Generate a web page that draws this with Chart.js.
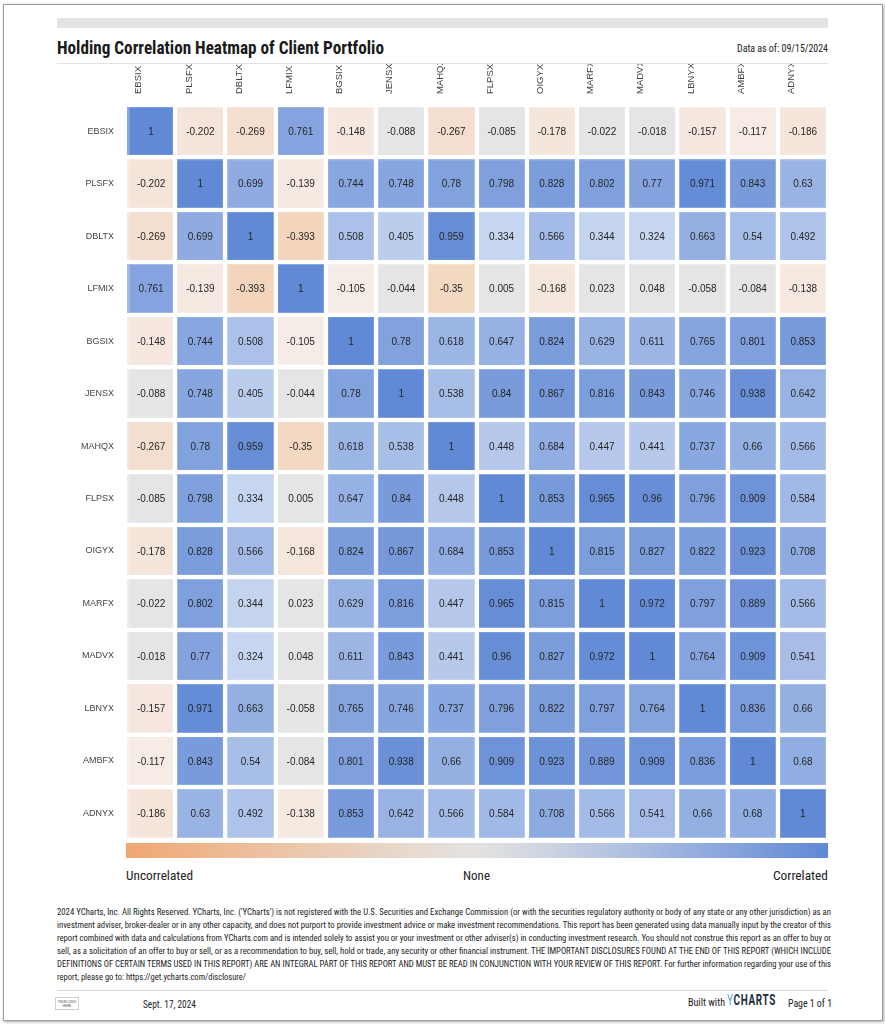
<!DOCTYPE html>
<html>
<head>
<meta charset="utf-8">
<script src="https://cdn.jsdelivr.net/npm/chart.js@4/dist/chart.umd.min.js"></script>
<style>
  body { margin: 0; background: #fff; width: 885px; height: 1024px; position: relative; overflow: hidden; font-family: Roboto, Arial, sans-serif; }
  .page { position: absolute; left: 3px; top: 4px; width: 878px; height: 1015px; border: 1px solid #9c9c9c; box-shadow: 1px 1px 3px rgba(0,0,0,0.35); background: #fff; }
  .abs { position: absolute; }
  .fit { position: absolute; white-space: nowrap; transform-origin: 0 50%; display: inline-block; }
  .cond { font-family: "Roboto Condensed", "Liberation Sans Narrow", "DejaVu Sans Condensed", Roboto, sans-serif; font-stretch: condensed; }
  #chartBox { position: absolute; left: 40px; top: 64px; width: 800px; height: 792px; }
  .bar { position: absolute; left: 126px; top: 843px; width: 702px; height: 15px;
         background: linear-gradient(to right, #f0a772 0%, #ecc4a6 22%, #e7d9cd 40%, #e3e2e1 50%, #cdd4e1 60%, #a3b8e0 76%, #6088d6 100%); }
</style>
</head>
<body>
<div class="page"></div>
<div class="abs" style="left:57px;top:18px;width:771px;height:10px;background:#e4e4e4"></div>
<div class="fit cond" data-w="327" style="left:57px;top:38px;font-size:18px;line-height:20px;font-weight:bold;color:#1a1a1a">Holding Correlation Heatmap of Client Portfolio</div>
<div class="fit cond" data-w="91" style="left:737px;top:43px;font-size:10px;line-height:12px;color:#222">Data as of: 09/15/2024</div>
<div class="abs" style="left:57px;top:63px;width:771px;height:1px;background:#e2e2e2"></div>

<div id="chartBox"><canvas id="heat"></canvas></div>

<div class="bar"></div>
<div class="fit cond" data-w="67" style="left:126px;top:869px;font-size:12px;line-height:14px;color:#222">Uncorrelated</div>
<div class="fit cond" data-w="27" style="left:463px;top:869px;font-size:12px;line-height:14px;color:#222">None</div>
<div class="fit cond" data-w="55" style="left:773px;top:869px;font-size:12px;line-height:14px;color:#222">Correlated</div>

<div id="disc"></div>

<div class="abs" style="left:57px;top:990px;width:771px;height:1px;background:#d8d8d8"></div>
<div class="abs" style="left:55px;top:997px;width:24px;height:13px;border:1px solid #cfcfcf;font-size:3.5px;line-height:4px;text-align:center;color:#555;padding-top:2px;box-sizing:border-box">YOUR LOGO<br>HERE</div>
<div class="fit cond" data-w="53" style="left:143px;top:998px;font-size:11px;line-height:13px;color:#222">Sept. 17, 2024</div>
<div class="fit cond" data-w="37" style="left:688px;top:997px;font-size:10px;line-height:12px;color:#222">Built with</div>
<div class="fit" data-w="49" style="left:727px;top:992px;font-size:15px;line-height:17px;font-weight:bold;letter-spacing:1px;color:#1b2a3c"><span style="color:#49a6e0;font-weight:normal">Y</span>CHARTS</div>
<div class="fit cond" data-w="44" style="left:788px;top:998px;font-size:10px;line-height:12px;color:#222">Page 1 of 1</div>

<script>
// holdings (rows top->bottom, columns left->right use the same order)
const rowNames = ['EBSIX', 'PLSFX', 'DBLTX', 'LFMIX', 'BGSIX', 'JENSX', 'MAHQX', 'FLPSX', 'OIGYX', 'MARFX', 'MADVX', 'LBNYX', 'AMBFX', 'ADNYX'];
const colNames = ['EBSIX', 'PLSFX', 'DBLTX', 'LFMIX', 'BGSIX', 'JENSX', 'MAHQX', 'FLPSX', 'OIGYX', 'MARFX', 'MADVX', 'LBNYX', 'AMBFX', 'ADNYX'];

// correlation rows
const ebsix = [1, -0.202, -0.269, 0.761, -0.148, -0.088, -0.267, -0.085, -0.178, -0.022, -0.018, -0.157, -0.117, -0.186];
const plsfx = [-0.202, 1, 0.699, -0.139, 0.744, 0.748, 0.78, 0.798, 0.828, 0.802, 0.77, 0.971, 0.843, 0.63];
const dbltx = [-0.269, 0.699, 1, -0.393, 0.508, 0.405, 0.959, 0.334, 0.566, 0.344, 0.324, 0.663, 0.54, 0.492];
const lfmix = [0.761, -0.139, -0.393, 1, -0.105, -0.044, -0.35, 0.005, -0.168, 0.023, 0.048, -0.058, -0.084, -0.138];
const bgsix = [-0.148, 0.744, 0.508, -0.105, 1, 0.78, 0.618, 0.647, 0.824, 0.629, 0.611, 0.765, 0.801, 0.853];
const jensx = [-0.088, 0.748, 0.405, -0.044, 0.78, 1, 0.538, 0.84, 0.867, 0.816, 0.843, 0.746, 0.938, 0.642];
const mahqx = [-0.267, 0.78, 0.959, -0.35, 0.618, 0.538, 1, 0.448, 0.684, 0.447, 0.441, 0.737, 0.66, 0.566];
const flpsx = [-0.085, 0.798, 0.334, 0.005, 0.647, 0.84, 0.448, 1, 0.853, 0.965, 0.96, 0.796, 0.909, 0.584];
const oigyx = [-0.178, 0.828, 0.566, -0.168, 0.824, 0.867, 0.684, 0.853, 1, 0.815, 0.827, 0.822, 0.923, 0.708];
const marfx = [-0.022, 0.802, 0.344, 0.023, 0.629, 0.816, 0.447, 0.965, 0.815, 1, 0.972, 0.797, 0.889, 0.566];
const madvx = [-0.018, 0.77, 0.324, 0.048, 0.611, 0.843, 0.441, 0.96, 0.827, 0.972, 1, 0.764, 0.909, 0.541];
const lbnyx = [-0.157, 0.971, 0.663, -0.058, 0.765, 0.746, 0.737, 0.796, 0.822, 0.797, 0.764, 1, 0.836, 0.66];
const ambfx = [-0.117, 0.843, 0.54, -0.084, 0.801, 0.938, 0.66, 0.909, 0.923, 0.889, 0.909, 0.836, 1, 0.68];
const adnyx = [-0.186, 0.63, 0.492, -0.138, 0.853, 0.642, 0.566, 0.584, 0.708, 0.566, 0.541, 0.66, 0.68, 1];

const matrix = [ebsix, plsfx, dbltx, lfmix, bgsix, jensx, mahqx, flpsx, oigyx, marfx, madvx, lbnyx, ambfx, adnyx];

const disclaimer = [
  "2024 YCharts, Inc. All Rights Reserved. YCharts, Inc. ('YCharts') is not registered with the U.S. Securities and Exchange Commission (or with the securities regulatory authority or body of any state or any other jurisdiction) as an",
  "investment adviser, broker-dealer or in any other capacity, and does not purport to provide investment advice or make investment recommendations. This report has been generated using data manually input by the creator of this",
  "report combined with data and calculations from YCharts.com and is intended solely to assist you or your investment or other adviser(s) in conducting investment research. You should not construe this report as an offer to buy or",
  "sell, as a solicitation of an offer to buy or sell, or as a recommendation to buy, sell, hold or trade, any security or other financial instrument. THE IMPORTANT DISCLOSURES FOUND AT THE END OF THIS REPORT (WHICH INCLUDE",
  "DEFINITIONS OF CERTAIN TERMS USED IN THIS REPORT) ARE AN INTEGRAL PART OF THIS REPORT AND MUST BE READ IN CONJUNCTION WITH YOUR REVIEW OF THIS REPORT. For further information regarding your use of this",
  "report, please go to: https://get.ycharts.com/disclosure/"
];

// disclaimer lines
const disc = document.getElementById('disc');
disclaimer.forEach((line, i) => {
  const d = document.createElement('div');
  d.className = 'fit cond';
  d.dataset.w = i < 5 ? 774 : 189;
  d.style.cssText = `left:57px;top:${906 + i * 13}px;font-size:9px;line-height:13px;color:#222`;
  d.textContent = line;
  disc.appendChild(d);
});

// squeeze text to the widths seen on the page
document.querySelectorAll('.fit').forEach(el => {
  const w = el.getBoundingClientRect().width;
  el.style.transform = `scaleX(${el.dataset.w / w})`;
});

function mix(a, b, t) {
  return a.map((v, k) => Math.round(v + (b[k] - v) * t));
}

function cellRgb(v) {
  if (v <= -0.1) {
    if (v >= -0.393) return mix([246, 236, 232], [243, 212, 188], (-0.1 - v) / 0.293);
    return mix([243, 212, 188], [240, 165, 112], (-0.393 - v) / 0.607);
  }
  if (v < 0.1) return [229, 229, 229];
  if (v < 0.3) return mix([233, 240, 249], [203, 217, 241], (v - 0.1) / 0.2);
  return mix([203, 217, 241], [97, 137, 213], (v - 0.3) / 0.7);
}

const rgb = c => `rgb(${c[0]},${c[1]},${c[2]})`;

// one dataset per column, each bar spans one column on the linear x scale
const datasets = colNames.map((c, j) => ({
  label: c,
  data: rowNames.map(() => [j, j + 1]),
  backgroundColor: ctx => rgb(cellRgb(matrix[ctx.dataIndex][j])),
  borderColor: ctx => rgb(mix(cellRgb(matrix[ctx.dataIndex][j]), [255, 255, 255], 0.25)),
  borderWidth: 3,
  borderSkipped: false,
  categoryPercentage: 1,
  barPercentage: 1
}));

const cellText = {
  id: 'cellText',
  afterDraw(chart) {
    const { ctx } = chart;
    ctx.save();
    ctx.font = '10px Arial, "Liberation Sans", sans-serif';
    ctx.fillStyle = '#262626';
    ctx.textAlign = 'center';
    ctx.textBaseline = 'middle';
    colNames.forEach((c, j) => {
      chart.getDatasetMeta(j).data.forEach((el, i) => {
        const p = el.getCenterPoint();
        ctx.fillText(String(matrix[i][j]), p.x, p.y + 1);
      });
    });
    ctx.restore();
  }
};

new Chart(document.getElementById('heat'), {
  type: 'bar',
  data: { labels: rowNames, datasets },
  options: {
    indexAxis: 'y',
    responsive: true,
    maintainAspectRatio: false,
    animation: false,
    grouped: false,
    layout: { padding: { top: 0, right: 12, bottom: 3, left: 0 } },
    plugins: { legend: { display: false }, tooltip: { enabled: false } },
    scales: {
      x: {
        type: 'linear',
        position: 'top',
        min: 0,
        max: 14,
        ticks: { display: false, stepSize: 1 },
        // white grid drawn over the cells makes the gaps
        grid: { color: '#fff', lineWidth: 4, z: 1, drawTicks: false },
        border: { display: false },
        afterFit: s => { s.height = 0; }
      },
      xl: {
        type: 'category',
        labels: colNames,
        position: 'top',
        offset: true,
        grid: { display: false, drawTicks: false },
        border: { display: false },
        ticks: {
          autoSkip: false,
          minRotation: 90,
          maxRotation: 90,
          padding: 11,
          color: '#444',
          font: { family: 'Arial, "Liberation Sans", sans-serif', size: 9.5 }
        },
        afterFit: s => { s.height = 41; }
      },
      y: {
        type: 'category',
        offset: true,
        grid: { offset: true, color: '#fff', lineWidth: 4, z: 1, drawTicks: false },
        border: { display: false },
        ticks: {
          padding: 11,
          color: '#444',
          font: { family: 'Arial, "Liberation Sans", sans-serif', size: 9 }
        },
        afterFit: s => { s.width = 85; }
      }
    }
  },
  plugins: [cellText]
});
</script>
</body>
</html>
